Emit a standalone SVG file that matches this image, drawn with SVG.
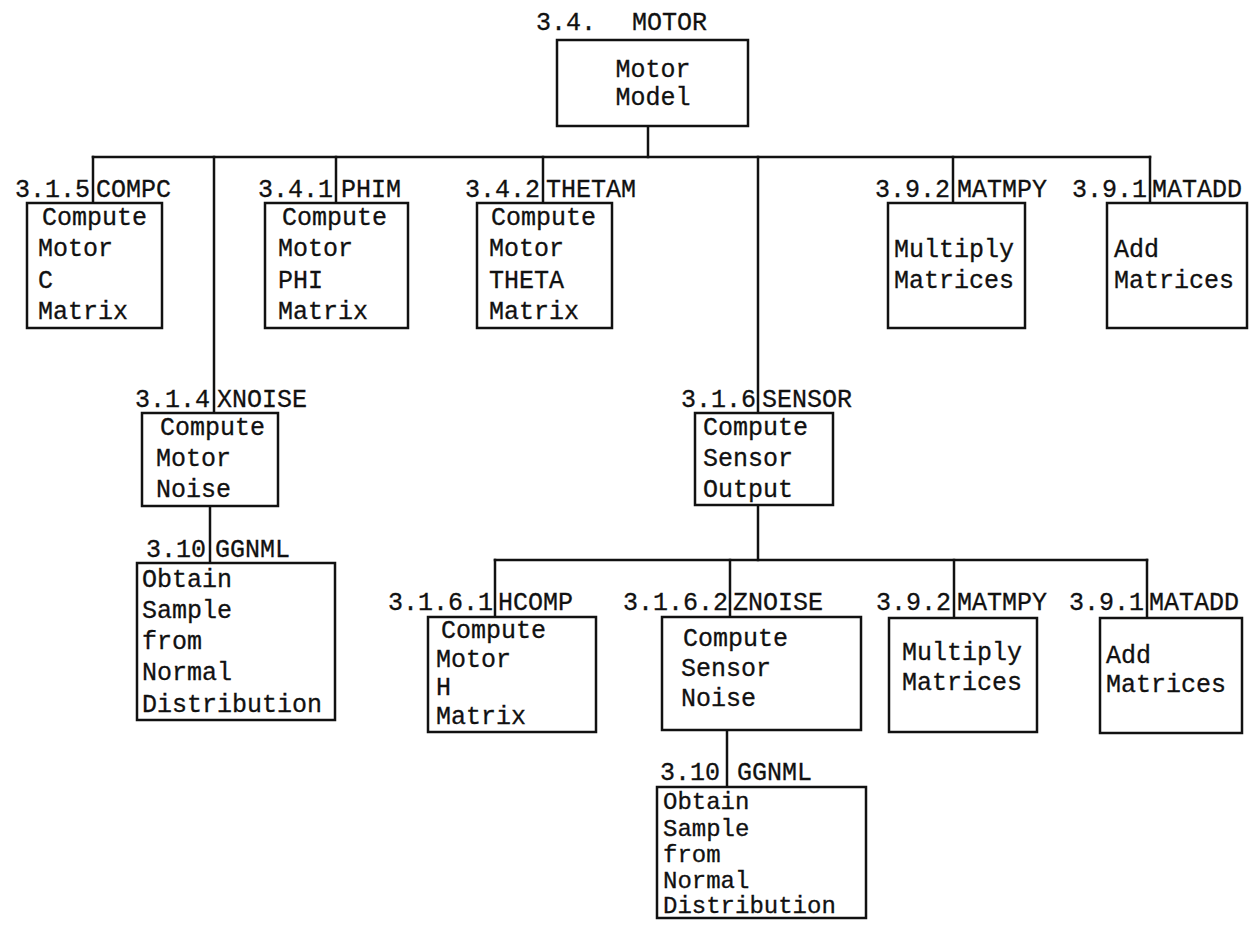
<svg xmlns="http://www.w3.org/2000/svg" width="1254" height="931" viewBox="0 0 1254 931">
  <style>
    .box { fill: #ffffff; stroke: #111111; stroke-width: 2.5; }
    .wire { fill: none; stroke: #111111; stroke-width: 2.5; stroke-linecap: square; }
    .t { font-family: "Liberation Mono", "DejaVu Sans Mono", monospace; font-size: 25px; fill: #111111; stroke: #111111; stroke-width: 0.3; }
    .s { font-size: 24px; }
    .num { text-anchor: end; }
    .mid { text-anchor: middle; }
  </style>
  <rect width="1254" height="931" fill="#ffffff"/>

  <!-- connectors -->
  <g id="connectors" class="wire">
    <!-- MOTOR to first-level modules -->
    <path d="M648 126 V157"/>
    <path d="M93 157 H1150"/>
    <path d="M93 157 V203"/>
    <path d="M214 157 V413"/>
    <path d="M336 157 V203"/>
    <path d="M543 157 V203"/>
    <path d="M758 157 V413"/>
    <path d="M953 157 V203"/>
    <path d="M1150 157 V203"/>
    <!-- XNOISE to GGNML -->
    <path d="M210 506 V563"/>
    <!-- SENSOR to second-level modules -->
    <path d="M758 505 V560"/>
    <path d="M495 560 H1147"/>
    <path d="M495 560 V617"/>
    <path d="M730 560 V617"/>
    <path d="M954 560 V618"/>
    <path d="M1147 560 V618"/>
    <!-- ZNOISE to GGNML -->
    <path d="M727 730 V787"/>
  </g>

  <g id="motor">
    <text class="t" x="536" y="30">3.4.</text>
    <text class="t" x="632" y="30">MOTOR</text>
    <rect class="box" x="557" y="40" width="191" height="86"/>
    <text class="t mid" x="653" y="77">Motor</text>
    <text class="t mid" x="653" y="105">Model</text>
  </g>

  <g id="compc">
    <text class="t num" x="90" y="197">3.1.5</text>
    <text class="t" x="96" y="197">COMPC</text>
    <rect class="box" x="27" y="203" width="135" height="125"/>
    <text class="t" x="42" y="225">Compute</text>
    <text class="t" x="38" y="256">Motor</text>
    <text class="t" x="38" y="288">C</text>
    <text class="t" x="38" y="319">Matrix</text>
  </g>

  <g id="phim">
    <text class="t num" x="333" y="197">3.4.1</text>
    <text class="t" x="341" y="197">PHIM</text>
    <rect class="box" x="265" y="203" width="143" height="125"/>
    <text class="t" x="282" y="225">Compute</text>
    <text class="t" x="278" y="256">Motor</text>
    <text class="t" x="278" y="288">PHI</text>
    <text class="t" x="278" y="319">Matrix</text>
  </g>

  <g id="thetam">
    <text class="t num" x="540" y="197">3.4.2</text>
    <text class="t" x="546" y="197">THETAM</text>
    <rect class="box" x="477" y="203" width="135" height="125"/>
    <text class="t" x="491" y="225">Compute</text>
    <text class="t" x="489" y="256">Motor</text>
    <text class="t" x="489" y="288">THETA</text>
    <text class="t" x="489" y="319">Matrix</text>
  </g>

  <g id="matmpy">
    <text class="t num" x="950" y="197">3.9.2</text>
    <text class="t" x="957" y="197">MATMPY</text>
    <rect class="box" x="888" y="203" width="137" height="125"/>
    <text class="t" x="894" y="257">Multiply</text>
    <text class="t" x="894" y="288">Matrices</text>
  </g>

  <g id="matadd">
    <text class="t num" x="1147" y="197">3.9.1</text>
    <text class="t" x="1152" y="197">MATADD</text>
    <rect class="box" x="1107" y="203" width="140" height="125"/>
    <text class="t" x="1114" y="257">Add</text>
    <text class="t" x="1114" y="288">Matrices</text>
  </g>

  <g id="xnoise">
    <text class="t num" x="210" y="407">3.1.4</text>
    <text class="t" x="217" y="407">XNOISE</text>
    <rect class="box" x="142" y="413" width="136" height="93"/>
    <text class="t" x="160" y="435">Compute</text>
    <text class="t" x="156" y="466">Motor</text>
    <text class="t" x="156" y="497">Noise</text>
  </g>

  <g id="ggnml-1">
    <text class="t num" x="206" y="557">3.10</text>
    <text class="t" x="215" y="557">GGNML</text>
    <rect class="box" x="137" y="563" width="198" height="157"/>
    <text class="t" x="142" y="587">Obtain</text>
    <text class="t" x="142" y="618">Sample</text>
    <text class="t" x="142" y="649">from</text>
    <text class="t" x="142" y="680">Normal</text>
    <text class="t" x="142" y="712">Distribution</text>
  </g>

  <g id="sensor">
    <text class="t num" x="756" y="407">3.1.6</text>
    <text class="t" x="762" y="407">SENSOR</text>
    <rect class="box" x="695" y="413" width="138" height="92"/>
    <text class="t" x="703" y="435">Compute</text>
    <text class="t" x="703" y="466">Sensor</text>
    <text class="t" x="703" y="497">Output</text>
  </g>

  <g id="hcomp">
    <text class="t num" x="493" y="610">3.1.6.1</text>
    <text class="t" x="498" y="610">HCOMP</text>
    <rect class="box" x="428" y="617" width="168" height="115"/>
    <text class="t" x="441" y="638">Compute</text>
    <text class="t" x="436" y="667">Motor</text>
    <text class="t" x="436" y="695">H</text>
    <text class="t" x="436" y="724">Matrix</text>
  </g>

  <g id="znoise">
    <text class="t num" x="728" y="610">3.1.6.2</text>
    <text class="t" x="733" y="610">ZNOISE</text>
    <rect class="box" x="662" y="617" width="199" height="113"/>
    <text class="t" x="683" y="646">Compute</text>
    <text class="t" x="681" y="676">Sensor</text>
    <text class="t" x="681" y="706">Noise</text>
  </g>

  <g id="ggnml-2">
    <text class="t num" x="720" y="780">3.10</text>
    <text class="t" x="737" y="780">GGNML</text>
    <rect class="box" x="657" y="787" width="209" height="131"/>
    <text class="t s" x="663" y="809">Obtain</text>
    <text class="t s" x="663" y="836">Sample</text>
    <text class="t s" x="663" y="862">from</text>
    <text class="t s" x="663" y="888">Normal</text>
    <text class="t s" x="663" y="913">Distribution</text>
  </g>

  <g id="matmpy-2">
    <text class="t num" x="951" y="610">3.9.2</text>
    <text class="t" x="957" y="610">MATMPY</text>
    <rect class="box" x="889" y="618" width="148" height="114"/>
    <text class="t" x="902" y="660">Multiply</text>
    <text class="t" x="902" y="690">Matrices</text>
  </g>

  <g id="matadd-2">
    <text class="t num" x="1144" y="610">3.9.1</text>
    <text class="t" x="1149" y="610">MATADD</text>
    <rect class="box" x="1100" y="618" width="142" height="115"/>
    <text class="t" x="1106" y="663">Add</text>
    <text class="t" x="1106" y="692">Matrices</text>
  </g>
</svg>
